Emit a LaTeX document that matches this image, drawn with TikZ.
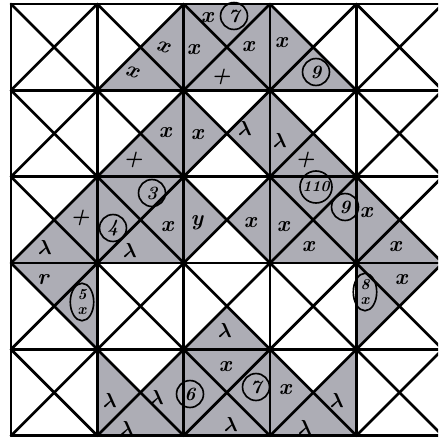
\documentclass[tikz,border=0pt]{standalone}
\usepackage{bm}
\usepackage{xcolor}
\definecolor{scangray}{rgb}{0.68,0.68,0.71}
\usetikzlibrary{shapes.geometric}

\begin{document}
\begin{tikzpicture}[
  x=0.03cm, y=-0.03cm,
  tri/.style={fill=scangray, draw=none},
  gridline/.style={line width=2.3pt, line cap=round},
  hand/.style={font=\fontsize{19}{19}\selectfont\bfseries\itshape, inner sep=0pt},
  circled/.style={draw, circle, line width=1.4pt, inner sep=1pt, minimum size=23pt, font=\fontsize{16}{16}\selectfont\bfseries\itshape},
  oval/.style={draw, ellipse, line width=1.4pt, inner sep=0pt, minimum width=20pt, minimum height=32pt, font=\fontsize{13}{12}\selectfont\bfseries\itshape, align=center}
]
\useasboundingbox (0,0) rectangle (438,447);
\clip (0,0) rectangle (438,447);
% grid of 5x5 squares, each cut in four by its diagonals
\begin{scope}[shift={(11,4)}, x=2.59cm, y=-2.59cm]
% column/row/angle: 0 top, 90 left, 180 bottom, 270 right
\foreach \c/\r/\a in {1/0/270, 1/0/180, 2/0/0, 2/0/90, 2/0/180, 2/0/270, 3/0/90, 3/0/180,%
    1/1/270, 1/1/180, 2/1/90, 2/1/270, 3/1/90, 3/1/180,%
    0/2/270, 0/2/180, 1/2/0, 1/2/90, 1/2/180, 1/2/270, 2/2/90, 2/2/270,%
    3/2/0, 3/2/90, 3/2/180, 3/2/270, 4/2/90, 4/2/180,%
    0/3/0, 0/3/270, 2/3/180, 4/3/0, 4/3/90,%
    1/4/90, 1/4/180, 1/4/270, 2/4/0, 2/4/90, 2/4/180, 2/4/270, 3/4/90, 3/4/180, 3/4/270}
  \fill[tri, rotate around={\a:(\c+0.5,\r+0.5)}] (\c,\r) -- (\c+1,\r) -- (\c+0.5,\r+0.5) -- cycle;
\foreach \i in {0,...,5} {
  \draw[gridline] (\i,0) -- (\i,5);
  \draw[gridline] (0,\i) -- (5,\i);
}
\foreach \c in {0,...,4}
  \foreach \r in {0,...,4} {
    \draw[gridline] (\c,\r) -- (\c+1,\r+1);
    \draw[gridline] (\c+1,\r) -- (\c,\r+1);
  }
\end{scope}
% handwritten marks, row by row
\node[hand, rotate=-20] (a1) at (132,72) {x};
\node[hand, rotate=-20] (a2) at (163,47) {x};
\node[hand] (a3) at (193,50) {x};
\node[hand] (a4) at (207,18) {x};
\node[circled] (a5) at (234,16) {7};
\node[hand] (a6) at (248,47) {x};
\node[hand] (a7) at (281,43) {x};
\node[hand] (a8) at (221,77) {+};
\node[circled] (a9) at (316,72) {9};
\node[hand] (b1) at (165,133) {x};
\node[hand] (b2) at (197,135) {x};
\node[hand] (b3) at (133,160) {+};
\node[hand] (b4) at (245,128) {$\bm{\lambda}$};
\node[hand] (b5) at (280,140) {$\bm{\lambda}$};
\node[hand] (b6) at (305,160) {+};
\node[hand] (c1) at (80,218) {+};
\node[hand] (c2) at (45,247) {$\bm{\lambda}$};
\node[circled] (c3) at (152,193) {3};
\node[circled] (c4) at (113,228) {4};
\node[hand] (c5) at (130,250) {$\bm{\lambda}$};
\node[hand] (c6) at (167,227) {x};
\node[hand] (c7) at (197,223) {y};
\node[hand] (c8) at (250,223) {x};
\node[hand] (c9) at (283,227) {x};
\node[circled, font=\fontsize{13}{13}\selectfont\bfseries\itshape] (c10) at (316,187) {110};
\node[circled] (c11) at (345,207) {9};
\node[hand] (c12) at (308,247) {x};
\node[hand] (c13) at (366,213) {x};
\node[hand] (c14) at (395,247) {x};
\node[hand] (d1) at (43,280) {r};
\node[oval] (d2) at (82,302) {5\\x};
\node[hand] (d3) at (225,330) {$\bm{\lambda}$};
\node[oval] (d4) at (365,292) {8\\x};
\node[hand] (d5) at (401,280) {x};
\node[hand] (e1) at (110,400) {$\bm{\lambda}$};
\node[hand] (e2) at (127,428) {$\bm{\lambda}$};
\node[hand] (e3) at (157,397) {$\bm{\lambda}$};
\node[circled] (e4) at (190,394) {6};
\node[hand] (e5) at (225,367) {x};
\node[circled] (e6) at (256,387) {7};
\node[hand] (e7) at (231,424) {$\bm{\lambda}$};
\node[hand] (e8) at (285,390) {x};
\node[hand] (e9) at (305,427) {$\bm{\lambda}$};
\node[hand] (e10) at (337,400) {$\bm{\lambda}$};
\end{tikzpicture}
\end{document}
